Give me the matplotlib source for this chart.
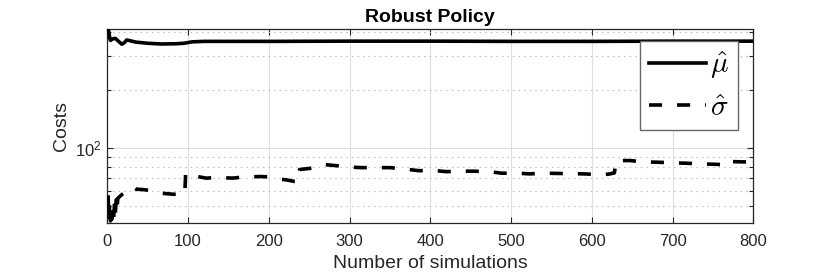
import matplotlib
matplotlib.use("Agg")
import matplotlib.pyplot as plt
from matplotlib.font_manager import FontProperties

# ---------------- data ----------------
mu_x = [1, 2, 3, 4, 6, 10, 14, 18, 21, 24, 28, 35, 50, 67, 85, 95, 105, 120,
        200, 300, 400, 500, 600, 700, 800]
mu_y = [415, 400, 372, 362, 368, 371, 358, 346, 352, 364, 361, 355, 350, 347,
        348, 350, 356, 358, 358, 359, 359, 358, 358, 359, 359]

sigma_x = [1, 2, 3, 4, 5, 6, 7, 8, 9, 10, 11, 12, 13, 15, 18, 22, 26, 30, 33, 36,
           45, 51, 55, 61, 70, 82, 96, 97, 102, 110, 123, 131, 156, 166, 189, 201,
           215, 222, 232, 237, 238, 253, 268, 282, 303, 315, 338, 350, 371, 385,
           406, 420, 439, 453, 474, 488, 509, 523, 542, 556, 577, 594, 612, 622,
           628, 630, 647, 665, 682, 701, 717, 734, 750, 769, 771, 783, 800]
sigma_y = [57, 42, 52, 42, 50, 43, 50, 44, 53, 46, 54, 48, 55, 56, 57.5, 59, 61,
           63, 62.5, 61.3, 61, 60.5, 60, 58.9, 58.3, 57.7, 57.9, 74.2, 72.7, 71.5,
           69.9, 70.4, 70, 70.7, 71.3, 71, 69, 68.5, 67.2, 67, 77.5, 78.8, 82.3,
           81.3, 79.7, 79.3, 79.3, 79.3, 77.8, 76.5, 76.5, 75.6, 76, 76, 75.6,
           74.2, 74.2, 73.6, 74.2, 74, 73.8, 73.5, 72.7, 73.5, 74.5, 86.3, 86.3,
           84.9, 84.6, 83.9, 83.6, 82.9, 82.6, 82, 85.3, 85, 84.8]

series_labels = [r'$\hat{\mu}$', r'$\hat{\sigma}$']
x_ticks = [0, 100, 200, 300, 400, 500, 600, 700, 800]
x_tick_labels = ['0', '100', '200', '300', '400', '500', '600', '700', '800']
y_ticks = [100]
y_tick_labels = [r'$10^{2}$']
y_minor_ticks = [50, 60, 70, 80, 90, 200, 300, 400]
title = 'Robust Policy'
xlabel = 'Number of simulations'
ylabel = 'Costs'

# ---------------- style ----------------
plt.rcParams['font.family'] = ['Liberation Sans', 'DejaVu Sans']
plt.rcParams['mathtext.fontset'] = 'custom'
plt.rcParams['mathtext.rm'] = 'Liberation Sans'
plt.rcParams['mathtext.it'] = 'Liberation Sans:italic'
plt.rcParams['lines.scale_dashes'] = False

W, H = 830, 278
fig = plt.figure(figsize=(W / 100, H / 100), dpi=100)
L, R, T, B = 107.3, 753.3, 29.0, 223.3
ax = fig.add_axes([L / W, 1 - B / H, (R - L) / W, (B - T) / H])

lw = 2.6
ax.plot(mu_x, mu_y, color='black', lw=lw, solid_joinstyle='round',
        label=series_labels[0], zorder=3)
ax.plot(sigma_x, sigma_y, color='black', lw=lw, linestyle=(0, (9.4, 10.8)),
        label=series_labels[1], zorder=3)

ax.set_yscale('log')
ax.set_xlim(0, 800)
ax.set_ylim(40.8, 415)

ax.set_xticks(x_ticks)
ax.set_xticklabels(x_tick_labels)
ax.set_yticks(y_ticks)
ax.set_yticklabels(y_tick_labels)
ax.set_yticks(y_minor_ticks, minor=True)
ax.set_yticklabels([''] * len(y_minor_ticks), minor=True)
ax.xaxis.set_minor_locator(matplotlib.ticker.NullLocator())

edge = (0.15, 0.15, 0.15)
for s in ax.spines.values():
    s.set_color(edge)
    s.set_linewidth(0.9)

ax.tick_params(which='both', direction='in', top=True, right=True,
               color=edge, width=0.8, labelsize=12, labelcolor=edge)
ax.tick_params(axis='x', which='major', length=4.5, pad=8)
ax.tick_params(axis='y', which='major', length=4.5, pad=4)
ax.tick_params(axis='y', which='minor', length=3.0)

ax.grid(True, which='major', color=(0.87, 0.87, 0.87), lw=0.8, linestyle='-')
ax.grid(True, which='minor', axis='y', color=(0.72, 0.72, 0.72), lw=0.8,
        linestyle=(0, (1, 3)))
ax.set_axisbelow(True)

ax.set_title(title, fontsize=14, fontweight='bold', pad=5.3)
ax.set_xlabel(xlabel, fontsize=14, color=edge)
ax.set_ylabel(ylabel, fontsize=14, color=edge)
ax.xaxis.set_label_coords(0.5, -0.161)
ax.yaxis.set_label_coords(-0.057, 0.5)

leg_font = FontProperties(size=21, math_fontfamily='cm')
leg = ax.legend(loc='upper right', bbox_to_anchor=(0.9756, 0.938),
                prop=leg_font, frameon=True, fancybox=False, framealpha=1,
                edgecolor=(0.4, 0.4, 0.4), handlelength=1.95, handletextpad=0.15,
                borderpad=0.3, labelspacing=0.42, borderaxespad=0)
leg.get_frame().set_linewidth(1.0)
leg.set_zorder(5)

fig.savefig('out.png', dpi=100)
